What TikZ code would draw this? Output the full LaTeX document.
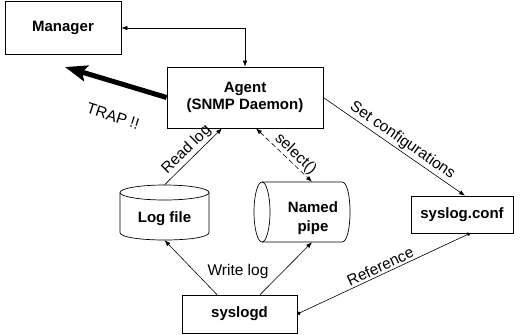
\documentclass[tikz,border=0pt]{standalone}
\usepackage{fontspec}
\setmainfont{Liberation Sans}
\usetikzlibrary{arrows.meta,calc}
\begin{document}
\begin{tikzpicture}[x=1pt,y=-1pt,
  box/.style={draw, line width=0.7pt, rectangle, inner sep=0pt, font=\fontsize{15}{17}\selectfont\bfseries, align=center},
  ghost/.style={rectangle, inner sep=0pt},
  btxt/.style={inner sep=0pt, font=\fontsize{15}{19}\selectfont\bfseries, align=center},
  lbl/.style={font=\fontsize{15.5}{17}\selectfont, inner sep=2pt},
  conn/.style={line width=0.6pt},
  tip/.style={-{Latex[length=6pt,width=4.5pt]}},
  tips/.style={{Latex[length=6pt,width=4.5pt]}-{Latex[length=6pt,width=4.5pt]}},
  cyl/.style={line width=0.7pt},
]
\useasboundingbox (0,0) rectangle (523,335);
% boxes
\node[box, minimum width=116pt, minimum height=53pt] (mgr) at (63,28) {Manager};
\node[box, minimum width=156pt, minimum height=61pt] (agent) at (245,97.5) {Agent\\(SNMP Daemon)};
\node[box, minimum width=102pt, minimum height=37pt] (conf) at (462,214.5) {syslog.conf};
\node[box, minimum width=115pt, minimum height=38pt] (syslogd) at (239.5,314) {syslogd};
% log file cylinder
\node[ghost, minimum width=89pt, minimum height=55pt] (logf) at (164.5,212.5) {};
\draw[cyl] (164.5,192.5) ellipse [x radius=44.5, y radius=7.5];
\draw[cyl] (120,192.5) -- (120,232.5) .. controls (120,242.5) and (209,242.5) .. (209,232.5) -- (209,192.5);
\node[btxt] (logft) at (164.5,219) {Log file};
% named pipe cylinder
\node[ghost, minimum width=96pt, minimum height=60pt] (pipe) at (302,212) {};
\draw[cyl] (262,212) ellipse [x radius=8, y radius=30];
\draw[cyl] (262,182) -- (342,182) .. controls (352.7,182) and (352.7,242) .. (342,242) -- (262,242);
\node[btxt] (pipet) at (313,218) {Named\\pipe};
% connectors
\draw[conn, tips] (mgr.east) -| (agent.north);
\coordinate (trapend) at (65,67);
\draw[line width=5pt, -{Stealth[length=22pt,width=16pt,inset=4pt]}] (agent.west) -- (trapend);
\node[lbl, rotate=-18] (trap) at (113,116) {TRAP !!};
\draw[conn, tip] (logf.north) -- node[lbl, sloped, above, pos=0.5] (readlog) {Read log} ([xshift=-23pt]agent.south);
\draw[conn, tips, dashed, dash pattern=on 5pt off 3pt] ([xshift=11pt]agent.south) -- node[lbl, sloped, above, pos=0.6, inner sep=1pt] (select) {select()} ([xshift=10pt]pipe.north);
\draw[conn, tip] (agent.east) -- node[lbl, sloped, above, pos=0.52] (setconf) {Set configurations} ([xshift=3pt]conf.north);
\draw[conn, tip] ([xshift=-22.5pt]syslogd.north) -- (logf.south);
\draw[conn, tip] ([xshift=20.5pt]syslogd.north) -- ([xshift=10pt]pipe.south);
\node[lbl] (writelog) at (238,271) {Write log};
\draw[conn, {Circle[length=3.5pt]}-{Circle[length=3.5pt]}] (syslogd.east) -- node[lbl, sloped, above, pos=0.5] (ref) {Reference} ([xshift=8pt]conf.south);
\end{tikzpicture}
\end{document}
